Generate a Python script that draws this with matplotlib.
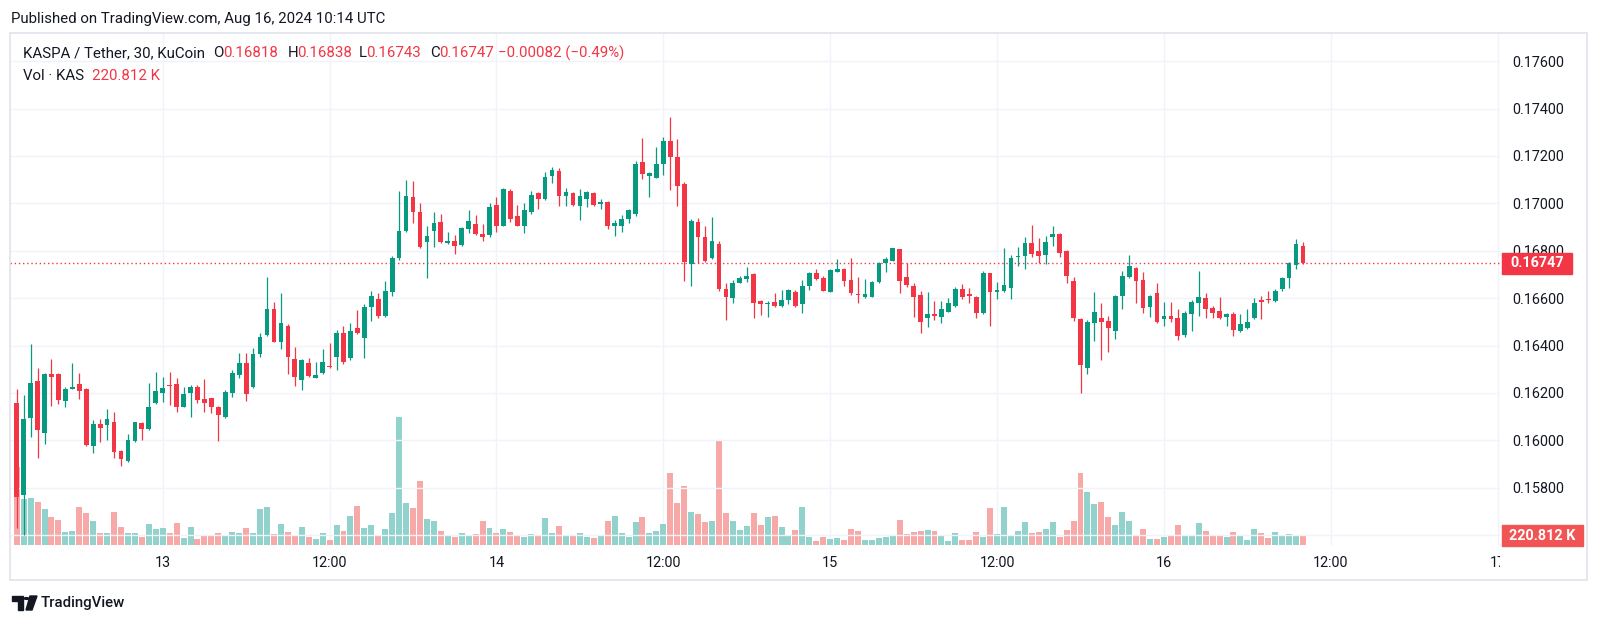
import numpy as np
import pandas as pd
import matplotlib.pyplot as plt
from matplotlib.patches import Rectangle, Polygon, Circle
from matplotlib.transforms import Bbox

plt.rcParams['font.family'] = ['Roboto', 'DejaVu Sans']

# KASPA / USDT, KuCoin, 30 min candles, first candle Aug 12 13:30
start = '2024-08-12 13:30'

opens = [
    0.16156, 0.15769, 0.16095, 0.16250, 0.16032, 0.16278, 0.16278, 0.16167, 0.16215, 0.16238,
    0.16215, 0.15977, 0.16068, 0.16065, 0.16076, 0.15955, 0.15914, 0.15998, 0.16072, 0.16046,
    0.16156, 0.16201, 0.16233, 0.16238, 0.16142, 0.16201, 0.16226, 0.16174, 0.16177, 0.16139,
    0.16097, 0.16201, 0.16276, 0.16325, 0.16226, 0.16364, 0.16444, 0.16553, 0.16416, 0.16484,
    0.16343, 0.16254, 0.16325, 0.16264, 0.16283, 0.16314, 0.16353, 0.16451, 0.16346, 0.16473,
    0.16430, 0.16564, 0.16595, 0.16526, 0.16627, 0.16768, 0.16884, 0.17025, 0.16962, 0.16838,
    0.16884, 0.16921, 0.16831, 0.16842, 0.16824, 0.16892, 0.16911, 0.16870, 0.16866, 0.16993,
    0.16906, 0.17053, 0.16946, 0.16906, 0.16965, 0.17042, 0.17017, 0.17116, 0.17136, 0.17032,
    0.17045, 0.16989, 0.17017, 0.17042, 0.16997, 0.17004, 0.16906, 0.16906, 0.16934, 0.16955,
    0.17176, 0.17116, 0.17108, 0.17165, 0.17264, 0.17197, 0.17081, 0.16743, 0.16922, 0.16859,
    0.16768, 0.16828, 0.16637, 0.16599, 0.16665, 0.16681, 0.16700, 0.16589, 0.16575, 0.16585,
    0.16567, 0.16592, 0.16627, 0.16574, 0.16651, 0.16707, 0.16686, 0.16627, 0.16711, 0.16722,
    0.16676, 0.16617, 0.16606, 0.16606, 0.16667, 0.16747, 0.16757, 0.16807, 0.16688, 0.16651,
    0.16613, 0.16515, 0.16532, 0.16519, 0.16541, 0.16567, 0.16637, 0.16616, 0.16603, 0.16538,
    0.16705, 0.16624, 0.16630, 0.16644, 0.16772, 0.16779, 0.16834, 0.16800, 0.16782, 0.16859,
    0.16870, 0.16800, 0.16673, 0.16511, 0.16306, 0.16496, 0.16515, 0.16505, 0.16461, 0.16610,
    0.16690, 0.16728, 0.16676, 0.16564, 0.16620, 0.16512, 0.16524, 0.16517, 0.16444, 0.16533,
    0.16581, 0.16599, 0.16557, 0.16546, 0.16519, 0.16532, 0.16462, 0.16473, 0.16515, 0.16592,
    0.16596, 0.16588, 0.16638, 0.16684, 0.16740, 0.16818,
]
highs = [
    0.16215, 0.16191, 0.16406, 0.16304, 0.16284, 0.16342, 0.16283, 0.16226, 0.16325, 0.16283,
    0.16222, 0.16086, 0.16089, 0.16131, 0.16118, 0.15959, 0.16027, 0.16078, 0.16077, 0.16241,
    0.16289, 0.16268, 0.16289, 0.16262, 0.16226, 0.16233, 0.16233, 0.16259, 0.16178, 0.16145,
    0.16212, 0.16297, 0.16367, 0.16367, 0.16389, 0.16453, 0.16688, 0.16585, 0.16620, 0.16491,
    0.16392, 0.16343, 0.16347, 0.16329, 0.16385, 0.16409, 0.16465, 0.16482, 0.16494, 0.16550,
    0.16575, 0.16630, 0.16620, 0.16672, 0.16779, 0.17052, 0.17098, 0.17094, 0.17003, 0.16904,
    0.16963, 0.16955, 0.16880, 0.16866, 0.16901, 0.16972, 0.16951, 0.16913, 0.17003, 0.17028,
    0.17063, 0.17060, 0.16993, 0.17000, 0.17052, 0.17048, 0.17133, 0.17154, 0.17149, 0.17063,
    0.17049, 0.17060, 0.17052, 0.17049, 0.17017, 0.17010, 0.16930, 0.16951, 0.16976, 0.17180,
    0.17277, 0.17131, 0.17236, 0.17278, 0.17365, 0.17270, 0.17090, 0.16934, 0.16939, 0.16906,
    0.16943, 0.16842, 0.16662, 0.16676, 0.16693, 0.16730, 0.16706, 0.16592, 0.16588, 0.16620,
    0.16634, 0.16638, 0.16634, 0.16676, 0.16710, 0.16722, 0.16693, 0.16723, 0.16765, 0.16727,
    0.16768, 0.16688, 0.16679, 0.16672, 0.16752, 0.16772, 0.16813, 0.16809, 0.16747, 0.16662,
    0.16631, 0.16624, 0.16587, 0.16587, 0.16602, 0.16648, 0.16659, 0.16641, 0.16609, 0.16714,
    0.16708, 0.16669, 0.16813, 0.16782, 0.16817, 0.16859, 0.16908, 0.16855, 0.16862, 0.16904,
    0.16875, 0.16803, 0.16688, 0.16516, 0.16508, 0.16624, 0.16578, 0.16524, 0.16613, 0.16714,
    0.16782, 0.16731, 0.16711, 0.16613, 0.16665, 0.16585, 0.16585, 0.16553, 0.16546, 0.16590,
    0.16716, 0.16620, 0.16567, 0.16603, 0.16537, 0.16541, 0.16532, 0.16553, 0.16599, 0.16609,
    0.16631, 0.16637, 0.16690, 0.16752, 0.16850, 0.16838,
]
lows = [
    0.15629, 0.15602, 0.16015, 0.15927, 0.15983, 0.16146, 0.16152, 0.16142, 0.16215, 0.16173,
    0.15976, 0.15945, 0.15994, 0.16001, 0.15927, 0.15893, 0.15910, 0.15992, 0.16001, 0.16043,
    0.16153, 0.16163, 0.16149, 0.16121, 0.16141, 0.16100, 0.16159, 0.16121, 0.16116, 0.15998,
    0.16094, 0.16184, 0.16264, 0.16166, 0.16222, 0.16350, 0.16440, 0.16415, 0.16384, 0.16280,
    0.16229, 0.16212, 0.16267, 0.16263, 0.16280, 0.16305, 0.16297, 0.16322, 0.16339, 0.16449,
    0.16349, 0.16503, 0.16516, 0.16520, 0.16610, 0.16761, 0.16879, 0.16916, 0.16813, 0.16686,
    0.16817, 0.16832, 0.16828, 0.16785, 0.16820, 0.16875, 0.16866, 0.16842, 0.16858, 0.16878,
    0.16904, 0.16920, 0.16904, 0.16876, 0.16955, 0.16976, 0.17014, 0.17084, 0.16989, 0.16989,
    0.16989, 0.16930, 0.16986, 0.16989, 0.16976, 0.16890, 0.16862, 0.16880, 0.16918, 0.16946,
    0.17101, 0.17028, 0.17107, 0.17119, 0.17056, 0.16989, 0.16673, 0.16652, 0.16749, 0.16752,
    0.16765, 0.16630, 0.16508, 0.16578, 0.16664, 0.16669, 0.16515, 0.16529, 0.16521, 0.16562,
    0.16562, 0.16574, 0.16562, 0.16536, 0.16634, 0.16676, 0.16630, 0.16626, 0.16710, 0.16652,
    0.16613, 0.16578, 0.16602, 0.16604, 0.16664, 0.16711, 0.16755, 0.16623, 0.16647, 0.16521,
    0.16454, 0.16479, 0.16508, 0.16496, 0.16540, 0.16564, 0.16595, 0.16581, 0.16515, 0.16535,
    0.16482, 0.16595, 0.16626, 0.16595, 0.16735, 0.16723, 0.16775, 0.16747, 0.16743, 0.16821,
    0.16772, 0.16665, 0.16505, 0.16198, 0.16278, 0.16420, 0.16339, 0.16374, 0.16427, 0.16554,
    0.16686, 0.16578, 0.16538, 0.16521, 0.16495, 0.16483, 0.16500, 0.16423, 0.16437, 0.16461,
    0.16526, 0.16517, 0.16517, 0.16512, 0.16482, 0.16440, 0.16458, 0.16468, 0.16512, 0.16512,
    0.16581, 0.16584, 0.16630, 0.16644, 0.16723, 0.16743,
]
closes = [
    0.15762, 0.16089, 0.16243, 0.16043, 0.16278, 0.16268, 0.16170, 0.16215, 0.16224, 0.16209,
    0.15980, 0.16068, 0.16053, 0.16089, 0.15952, 0.15920, 0.16001, 0.16076, 0.16046, 0.16142,
    0.16209, 0.16222, 0.16229, 0.16142, 0.16195, 0.16226, 0.16170, 0.16159, 0.16142, 0.16107,
    0.16203, 0.16285, 0.16325, 0.16194, 0.16364, 0.16437, 0.16553, 0.16416, 0.16494, 0.16353,
    0.16268, 0.16339, 0.16273, 0.16276, 0.16329, 0.16308, 0.16451, 0.16332, 0.16461, 0.16451,
    0.16561, 0.16609, 0.16526, 0.16631, 0.16770, 0.16883, 0.17032, 0.16962, 0.16817, 0.16862,
    0.16918, 0.16838, 0.16842, 0.16821, 0.16895, 0.16925, 0.16869, 0.16857, 0.16983, 0.16904,
    0.17059, 0.16934, 0.16906, 0.16972, 0.17035, 0.17017, 0.17110, 0.17140, 0.17032, 0.17049,
    0.16993, 0.17031, 0.17046, 0.16993, 0.17007, 0.16906, 0.16916, 0.16934, 0.16972, 0.17166,
    0.17124, 0.17126, 0.17166, 0.17264, 0.17197, 0.17073, 0.16754, 0.16927, 0.16857, 0.16757,
    0.16841, 0.16637, 0.16606, 0.16665, 0.16686, 0.16693, 0.16578, 0.16575, 0.16581, 0.16567,
    0.16592, 0.16634, 0.16567, 0.16651, 0.16705, 0.16681, 0.16631, 0.16719, 0.16724, 0.16673,
    0.16623, 0.16613, 0.16616, 0.16668, 0.16747, 0.16764, 0.16810, 0.16673, 0.16655, 0.16603,
    0.16500, 0.16532, 0.16524, 0.16553, 0.16579, 0.16637, 0.16606, 0.16610, 0.16536, 0.16705,
    0.16627, 0.16634, 0.16655, 0.16768, 0.16779, 0.16831, 0.16786, 0.16779, 0.16838, 0.16870,
    0.16789, 0.16693, 0.16517, 0.16318, 0.16498, 0.16540, 0.16500, 0.16475, 0.16609, 0.16695,
    0.16735, 0.16673, 0.16557, 0.16609, 0.16498, 0.16524, 0.16512, 0.16440, 0.16536, 0.16585,
    0.16603, 0.16554, 0.16538, 0.16515, 0.16533, 0.16465, 0.16489, 0.16500, 0.16581, 0.16582,
    0.16592, 0.16631, 0.16684, 0.16747, 0.16829, 0.16747,
]
# volume in thousands of KAS
volumes = [
    1911, 1120, 1159, 1061, 882, 679, 605, 326, 343, 931,
    784, 588, 301, 301, 809, 448, 287, 287, 189, 515,
    392, 417, 287, 539, 172, 448, 147, 245, 221, 294,
    245, 319, 294, 424, 294, 882, 938, 270, 515, 319,
    221, 448, 196, 147, 294, 123, 490, 343, 718, 956,
    424, 490, 245, 380, 777, 3129, 1022, 914, 1575, 630,
    588, 343, 245, 196, 294, 221, 270, 588, 409, 294,
    380, 319, 245, 196, 270, 221, 654, 294, 466, 245,
    221, 294, 196, 172, 245, 588, 718, 294, 196, 556,
    693, 294, 343, 515, 1757, 1022, 1446, 801, 760, 556,
    581, 2548, 791, 581, 368, 466, 791, 490, 693, 718,
    441, 221, 375, 924, 189, 105, 189, 147, 164, 123,
    392, 343, 123, 123, 164, 189, 228, 613, 262, 311,
    350, 368, 343, 228, 98, 287, 123, 123, 326, 203,
    899, 262, 924, 228, 343, 556, 287, 311, 392, 556,
    203, 368, 595, 1757, 1291, 1005, 1046, 679, 490, 801,
    595, 228, 385, 140, 140, 189, 221, 490, 245, 245,
    532, 343, 221, 221, 189, 326, 221, 123, 392, 287,
    164, 326, 245, 262, 245, 220.812,
]

price_ticks = [0.156, 0.158, 0.160, 0.162, 0.164, 0.166, 0.168, 0.170, 0.172, 0.174, 0.176]

W, H = 1600, 625
UP, DOWN = '#089981', '#f23645'
UP_VOL, DOWN_VOL = '#92d2cc', '#f7a9a7'
TXT = '#131722'
GRID = '#f0f3fa'
FS = 10.4     # scales
FS_HEAD = 10.8  # header / legend


def fx(px):
    return px / W


def fy(py):
    return 1 - py / H


times = pd.date_range(start, periods=len(closes), freq='30min')
x = np.arange(len(closes))
o, h, l, c = map(np.array, (opens, highs, lows, closes))
up = c >= o

fig = plt.figure(figsize=(W / 100, H / 100), dpi=100)
fig.patch.set_facecolor('white')

# chart pane: x 10..1500 px, y 33..545 px
rect = [fx(10), fy(545), (1500 - 10) / W, (545 - 33) / H]
ax_vol = fig.add_axes(rect)
ax = fig.add_axes(rect)
ax.patch.set_visible(False)

step = 6.953  # px per candle
xlim = (-(16.7 - 10) / step, (1500 - 16.7) / step)
for a in (ax, ax_vol):
    a.set_xlim(*xlim)
    for s in a.spines.values():
        s.set_visible(False)
ax.set_ylim(0.15558, 0.17719)
ax_vol.set_ylim(0, 12544)
ax_vol.set_xticks([])
ax_vol.set_yticks([])

# vertical grid at midnight / noon
grid_t = pd.date_range(times[0], periods=int(xlim[1]) + 1, freq='30min')
marks = [(i, t) for i, t in enumerate(grid_t) if t.minute == 0 and t.hour in (0, 12)]
for i, t in marks:
    ax_vol.axvline(i, color=GRID, lw=1, zorder=0)

# price axis (lowest level sits under the volume label)
labels = [f'{p:.5f}' for p in price_ticks]
labels[0] = ''
ax.set_yticks(price_ticks, labels)
ax.yaxis.tick_right()
ax.tick_params(axis='y', length=0, pad=9, labelsize=FS, labelcolor=TXT)
ax.set_xticks([])
ax.grid(axis='y', color=GRID, lw=1)
ax.set_axisbelow(True)

# volume
ax_vol.bar(x, volumes, width=0.86, color=np.where(up, UP_VOL, DOWN_VOL), linewidth=0, zorder=2)

# candles
colors = np.where(up, UP, DOWN)
ax.vlines(x, l, h, colors=colors, lw=0.9, zorder=2)
body = np.maximum(np.abs(c - o), 0.00003)
ax.bar(x, body, bottom=np.minimum(o, c), width=0.68, color=colors, linewidth=0, zorder=3)

# last price line
last = closes[-1]
last_col = UP if up[-1] else DOWN
ax.axhline(last, color=last_col, lw=1, ls=(0, (1, 2)), zorder=1)

# time labels (right-most clipped at the price scale)
clip = Bbox.from_extents(0, 0, 1500, H)
for i, t in marks:
    xd = ax.transData.transform((i, 0))[0]
    lab = '12:00' if t.hour == 12 else str(t.day)
    tt = fig.text(xd / W, fy(563), lab, ha='center', va='center', fontsize=FS, color=TXT)
    tt.set_clip_box(clip)
    tt.set_clip_on(True)

# price label box
yd = ax.transData.transform((0, last))[1]
fig.add_artist(Rectangle((fx(1502), (yd - 10.5) / H), 70 / W, 21 / H,
                         transform=fig.transFigure, color=last_col, zorder=5))
fig.text(fx(1537), yd / H, f'{last:.5f}', ha='center', va='center',
         color='white', fontsize=FS, fontweight='bold', zorder=6)

# volume label box
vd = ax_vol.transData.transform((0, volumes[-1]))[1]
fig.add_artist(Rectangle((fx(1502), (vd - 10.5) / H), 81 / W, 21 / H,
                         transform=fig.transFigure, color='#f05454', zorder=5))
fig.text(fx(1542.5), vd / H, f'{volumes[-1]:.3f} K', ha='center', va='center',
         color='white', fontsize=FS, fontweight='bold', zorder=6)

# outer frame
fig.add_artist(Rectangle((fx(10), fy(580)), 1577 / W, 547 / H, transform=fig.transFigure,
                         fill=False, ec='#e0e3eb', lw=1.2, zorder=4))

# header and legend
fig.text(fx(11), fy(19), 'Published on TradingView.com, Aug 16, 2024 10:14 UTC',
         fontsize=FS_HEAD, color=TXT, va='center')
fig.text(fx(23), fy(53), 'KASPA / Tether, 30, KuCoin', fontsize=FS_HEAD, color=TXT, va='center')
ohlc = [('O', opens[-1], 213, 223), ('H', highs[-1], 288, 297),
        ('L', lows[-1], 359, 366), ('C', closes[-1], 430, 439)]
for k, v, xk, xv in ohlc:
    fig.text(fx(xk), fy(53), k, fontsize=FS_HEAD, color=TXT, va='center')
    fig.text(fx(xv), fy(53), f'{v:.5f}', fontsize=FS_HEAD, color=DOWN, va='center')
chg = closes[-1] - closes[-2]
pct = chg / closes[-2] * 100
chg_txt = f'{chg:+.5f} ({pct:+.2f}%)'.replace('-', '\u2212')
fig.text(fx(498), fy(53), chg_txt, fontsize=FS_HEAD, color=DOWN, va='center')
fig.text(fx(23), fy(76), 'Vol \u00b7 KAS', fontsize=FS_HEAD, color=TXT, va='center')
fig.text(fx(92), fy(76), f'{volumes[-1]:.3f} K', fontsize=FS_HEAD, color=DOWN, va='center')

# TradingView logo
fig.add_artist(Polygon([(fx(12), fy(596)), (fx(23), fy(596)), (fx(23), fy(610)),
                        (fx(18), fy(610)), (fx(18), fy(601)), (fx(12), fy(601))],
                       closed=True, transform=fig.transFigure, color=TXT, zorder=4))
fig.add_artist(Circle((fx(26.5), fy(598.5)), 2.3 / W, transform=fig.transFigure, color=TXT, zorder=4))
fig.add_artist(Polygon([(fx(30), fy(596)), (fx(37), fy(596)), (fx(32), fy(610)), (fx(26), fy(610))],
                       closed=True, transform=fig.transFigure, color=TXT, zorder=4))
fig.text(fx(41), fy(603), 'TradingView', fontsize=FS_HEAD, color=TXT, va='center', fontweight='medium')

fig.savefig('out.png', dpi=100, facecolor='white')
